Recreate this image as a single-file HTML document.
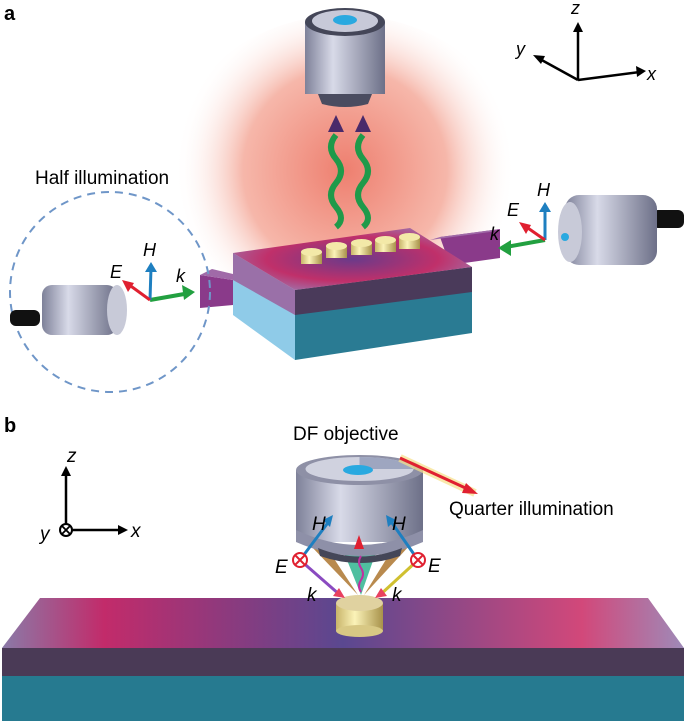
<!DOCTYPE html>
<html><head><style>body{margin:0;background:#fff}svg{display:block}text{font-family:"Liberation Sans",sans-serif}</style></head><body>
<svg width="685" height="721" viewBox="0 0 685 721" xmlns="http://www.w3.org/2000/svg">
<defs>
<radialGradient id="glow" cx="345" cy="170" r="170" gradientUnits="userSpaceOnUse"><stop offset="0" stop-color="#ee7f6f"/><stop offset="0.6" stop-color="#f6b7aa"/><stop offset="1" stop-color="#fff" stop-opacity="0"/></radialGradient>
<linearGradient id="cyl" x1="0" x2="1"><stop offset="0" stop-color="#7e8199"/><stop offset="0.35" stop-color="#d8dae8"/><stop offset="1" stop-color="#6d7088"/></linearGradient>
<linearGradient id="gold" x1="0" x2="1"><stop offset="0" stop-color="#c8b46a"/><stop offset="0.4" stop-color="#fbf3b8"/><stop offset="1" stop-color="#a8924a"/></linearGradient>
<linearGradient id="slabtop" x1="0" x2="1"><stop offset="0" stop-color="#8a7aa8"/><stop offset="0.15" stop-color="#c22b6a"/><stop offset="0.5" stop-color="#5a4890"/><stop offset="0.85" stop-color="#d2487a"/><stop offset="1" stop-color="#9e8ab8"/></linearGradient>
<radialGradient id="chiptop" cx="0.5" cy="0.5" r="0.6"><stop offset="0" stop-color="#6a3a8a"/><stop offset="0.6" stop-color="#c0306a"/><stop offset="1" stop-color="#9c78b0"/></radialGradient>
</defs>
<rect width="685" height="721" fill="#fff"/>
<text x="4" y="20" font-size="20" font-weight="bold">a</text>
<text x="4" y="432" font-size="20" font-weight="bold">b</text>
<ellipse cx="345" cy="165" rx="175" ry="150" fill="url(#glow)"/>
<rect x="305" y="22" width="80" height="72" fill="url(#cyl)"/>
<path d="M318 94 L372 94 L368 104 Q345 110 322 104 Z" fill="#4a4c60"/>
<ellipse cx="345" cy="22" rx="40" ry="14" fill="#444658"/>
<ellipse cx="345" cy="21" rx="33" ry="11" fill="#c7c9d8"/>
<ellipse cx="345" cy="20" rx="12" ry="5" fill="#29a9e0"/>
<polygon points="328,132 336,115 344,132" fill="#4a2a6a"/>
<polygon points="355,132 363,115 371,132" fill="#4a2a6a"/>
<path d="M336 135 q-10 12 0 24 t0 24 t0 24 t0 20" stroke="#1f9a4a" stroke-width="6" fill="none"/>
<path d="M363 135 q-10 12 0 24 t0 24 t0 24 t0 20" stroke="#1f9a4a" stroke-width="6" fill="none"/>
<!-- right waveguide (behind) -->
<polygon points="440,237 500,229 500,258 450,265" fill="#8a3a8a"/>
<polygon points="430,240 490,232 500,229 440,237" fill="#a06aa8"/>
<!-- chip -->
<polygon points="233,315 295,360 295,290 233,253" fill="#8fcbe8"/>
<polygon points="295,290 472,267 472,333 295,360" fill="#2a7b93"/>
<polygon points="295,290 472,267 472,292 295,315" fill="#4a3a5a"/>
<polygon points="233,253 295,290 295,315 233,280" fill="#9a70a8"/>
<polygon points="233,253 410,228 472,267 295,290" fill="url(#chiptop)"/>
<!-- left waveguide -->
<polygon points="200,275 233,280 233,305 200,308" fill="#8a3a8a"/>
<polygon points="200,275 212,269 233,274 233,280" fill="#a06aa8"/>
<g fill="url(#gold)">
<rect x="301" y="252" width="21" height="12"/><ellipse cx="311.5" cy="252" rx="10.5" ry="4" fill="#f3e9a8"/>
<rect x="326" y="246" width="21" height="12"/><ellipse cx="336.5" cy="246" rx="10.5" ry="4" fill="#f3e9a8"/>
<rect x="351" y="243" width="21" height="12"/><ellipse cx="361.5" cy="243" rx="10.5" ry="4" fill="#f3e9a8"/>
<rect x="375" y="240" width="21" height="12"/><ellipse cx="385.5" cy="240" rx="10.5" ry="4" fill="#f3e9a8"/>
<rect x="399" y="237" width="21" height="12"/><ellipse cx="409.5" cy="237" rx="10.5" ry="4" fill="#f3e9a8"/>
</g>
<circle cx="110" cy="292" r="100" fill="none" stroke="#6f96c8" stroke-width="2" stroke-dasharray="8,6"/>
<text x="35" y="184" font-size="19">Half illumination</text>
<rect x="10" y="310" width="30" height="16" rx="6" fill="#111"/>
<rect x="42" y="285" width="75" height="50" rx="10" fill="url(#cyl)"/>
<ellipse cx="117" cy="310" rx="10" ry="25" fill="#c8cad8"/>
<path d="M150 300 L190 293" stroke="#22a040" stroke-width="4"/><polygon points="195,292 182,285 184,300" fill="#22a040"/>
<path d="M150 300 L151 268" stroke="#1e7fc0" stroke-width="3"/><polygon points="151,262 145,272 157,272" fill="#1e7fc0"/>
<path d="M150 300 L128 284" stroke="#e02030" stroke-width="3"/><polygon points="122,280 128,292 134,283" fill="#e02030"/>
<text x="143" y="256" font-size="18" font-style="italic">H</text>
<text x="110" y="278" font-size="18" font-style="italic">E</text>
<text x="176" y="282" font-size="18" font-style="italic">k</text>
<rect x="652" y="210" width="32" height="18" rx="6" fill="#111"/>
<rect x="565" y="195" width="92" height="70" rx="14" fill="url(#cyl)"/>
<ellipse cx="570" cy="232" rx="12" ry="30" fill="#c8cad8"/>
<circle cx="565" cy="237" r="4" fill="#29a9e0"/>
<path d="M545 240 L506 247" stroke="#22a040" stroke-width="4"/><polygon points="498,248 511,240 511,256" fill="#22a040"/>
<path d="M545 240 L545 208" stroke="#1e7fc0" stroke-width="3"/><polygon points="545,202 539,212 551,212" fill="#1e7fc0"/>
<path d="M545 240 L525 226" stroke="#e02030" stroke-width="3"/><polygon points="519,222 526,234 531,225" fill="#e02030"/>
<text x="537" y="196" font-size="18" font-style="italic">H</text>
<text x="507" y="216" font-size="18" font-style="italic">E</text>
<text x="490" y="240" font-size="18" font-style="italic">k</text>
<g stroke="#000" stroke-width="2.5" fill="none"><path d="M578 80 L578 28"/><path d="M578 80 L640 72"/><path d="M578 80 L538 58"/></g>
<polygon points="578,22 573,32 583,32" fill="#000"/><polygon points="646,71 636,66 637,77" fill="#000"/><polygon points="533,55 541,64 545,56" fill="#000"/>
<text x="571" y="14" font-size="18" font-style="italic">z</text>
<text x="647" y="80" font-size="18" font-style="italic">x</text>
<text x="516" y="55" font-size="18" font-style="italic">y</text>
<polygon points="2,676 684,676 684,721 2,721" fill="#267a90"/>
<polygon points="2,648 684,648 684,676 2,676" fill="#4a3a56"/>
<polygon points="40,598 648,598 684,648 2,648" fill="url(#slabtop)"/>
<polygon points="310,545 325,545 358,595" fill="#b98a4e"/>
<polygon points="410,545 395,545 364,595" fill="#b98a4e"/>
<polygon points="345,555 375,555 361,595" fill="#4fbfa0"/>
<rect x="336" y="603" width="47" height="28" fill="url(#gold)"/>
<ellipse cx="359.5" cy="631" rx="23.5" ry="6" fill="#d8c884"/>
<ellipse cx="359.5" cy="603" rx="23.5" ry="8" fill="#e0d2a0"/>
<rect x="296" y="470" width="127" height="72" fill="url(#cyl)"/>
<path d="M296 530 Q360 560 423 530 L423 542 Q360 570 296 542 Z" fill="#8e90a8"/>
<path d="M318 548 Q360 565 402 548 L400 556 Q360 570 320 556Z" fill="#444658"/>
<ellipse cx="359.5" cy="470" rx="63.5" ry="15" fill="#8e90a6"/>
<ellipse cx="359.5" cy="469" rx="54" ry="12" fill="#d0d2df"/>
<path d="M359.5 469 L359.5 457 A54 12 0 0 1 413 469 Z" fill="#9ea6c0"/>
<ellipse cx="358" cy="470" rx="15" ry="5" fill="#29a9e0"/>
<path d="M400 458 L475 493" stroke="#f7e08a" stroke-width="8" opacity="0.7"/>
<path d="M400 458 L472 491" stroke="#e02030" stroke-width="3"/><polygon points="478,494 466,483 462,493" fill="#e02030"/>
<text x="293" y="440" font-size="19">DF objective</text>
<text x="449" y="515" font-size="19">Quarter illumination</text>
<path d="M361 592 q-4 -6 0 -12 t0 -12 t0 -12" stroke="#c030a0" stroke-width="2" fill="none"/>
<polygon points="359,535 354,549 364,549" fill="#e02030"/>
<path d="M300 560 L330 520" stroke="#1e7fc0" stroke-width="3"/><polygon points="333,515 323,520 330,527" fill="#1e7fc0"/>
<path d="M418 560 L390 520" stroke="#1e7fc0" stroke-width="3"/><polygon points="386,515 388,527 396,520" fill="#1e7fc0"/>
<path d="M300 560 L340 595" stroke="#8a4ac0" stroke-width="3"/><polygon points="345,598 333,596 339,588" fill="#e84060"/>
<path d="M418 560 L380 595" stroke="#d0c030" stroke-width="3"/><polygon points="375,598 381,588 387,596" fill="#e84060"/>
<circle cx="300" cy="560" r="7" fill="#fff" stroke="#e02030" stroke-width="2"/><path d="M295 555 L305 565 M305 555 L295 565" stroke="#e02030" stroke-width="2"/>
<circle cx="418" cy="560" r="7" fill="#fff" stroke="#e02030" stroke-width="2"/><path d="M413 555 L423 565 M423 555 L413 565" stroke="#e02030" stroke-width="2"/>
<text x="312" y="530" font-size="19" font-style="italic">H</text>
<text x="392" y="530" font-size="19" font-style="italic">H</text>
<text x="275" y="573" font-size="19" font-style="italic">E</text>
<text x="428" y="572" font-size="19" font-style="italic">E</text>
<text x="307" y="601" font-size="19" font-style="italic">k</text>
<text x="392" y="601" font-size="19" font-style="italic">k</text>
<g stroke="#000" stroke-width="2.5"><path d="M66 525 L66 472"/><path d="M72 530 L122 530"/></g>
<polygon points="66,466 61,476 71,476" fill="#000"/><polygon points="128,530 118,525 118,535" fill="#000"/>
<circle cx="66" cy="530" r="6" fill="#fff" stroke="#000" stroke-width="2"/><path d="M62 526 L70 534 M70 526 L62 534" stroke="#000" stroke-width="1.8"/>
<text x="67" y="462" font-size="19" font-style="italic">z</text>
<text x="131" y="537" font-size="19" font-style="italic">x</text>
<text x="40" y="540" font-size="19" font-style="italic">y</text>
</svg>
</body></html>
